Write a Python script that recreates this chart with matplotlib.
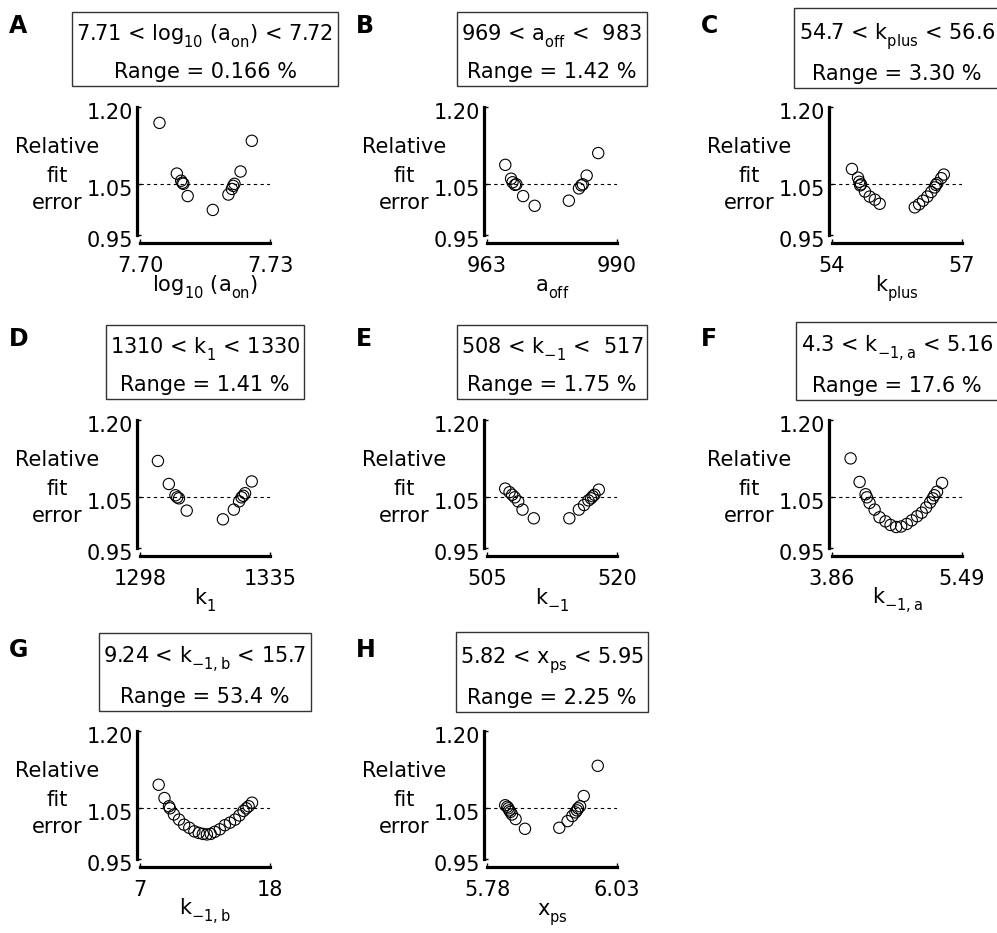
import numpy as np
import matplotlib
matplotlib.use("Agg")
import matplotlib.pyplot as plt
import matplotlib.transforms as mtransforms
import matplotlib._mathtext as _mt

plt.rcParams['font.family'] = ['DejaVu Sans']
plt.rcParams['mathtext.fontset'] = 'dejavusans'

# drop subscripts a bit lower, like the original figure
for _cls in (_mt.FontConstantsBase, _mt.DejaVuSansFontConstants):
    _cls.sub1 = 0.65
    _cls.subdrop = 0.65

# ---- data ----
letters = ['A', 'B', 'C', 'D', 'E', 'F', 'G', 'H']

xlabels = [r'log$_{10}$ (a$_{\rm on}$)', r'a$_{\rm off}$', r'k$_{\rm plus}$', r'k$_1$',
           r'k$_{-1}$', r'k$_{-1,\rm a}$', r'k$_{-1,\rm b}$', r'x$_{\rm ps}$']

box_lines = [r'7.71 < log$_{10}$ (a$_{\rm on}$) < 7.72',
             r'969 < a$_{\rm off}$ <  983',
             r'54.7 < k$_{\rm plus}$ < 56.6',
             r'1310 < k$_1$ < 1330',
             r'508 < k$_{-1}$ <  517',
             r'4.3 < k$_{-1,\rm a}$ < 5.16',
             r'9.24 < k$_{-1,\rm b}$ < 15.7',
             r'5.82 < x$_{\rm ps}$ < 5.95']
ranges = ['0.166', '1.42', '3.30', '1.41', '1.75', '17.6', '53.4', '2.25']

x_limits = [(7.70, 7.73), (963, 990), (54, 57), (1298, 1335),
            (505, 520), (3.86, 5.49), (7, 18), (5.78, 6.03)]
x_ticklabels = [('7.70', '7.73'), ('963', '990'), ('54', '57'), ('1298', '1335'),
                ('505', '520'), ('3.86', '5.49'), ('7', '18'), ('5.78', '6.03')]

y_ticks = [0.95, 1.05, 1.20]
y_ticklabels = ['0.95', '1.05', '1.20']
ylabel_words = ['Relative', 'fit', 'error']
threshold = 1.05

a_on_x = [7.7045, 7.7085, 7.7095, 7.7098, 7.7100, 7.7110, 7.7168,
          7.7204, 7.7212, 7.7215, 7.7218, 7.7232, 7.7258]
a_on_err = [1.169, 1.070, 1.056, 1.052, 1.050, 1.026, 0.999,
            1.029, 1.040, 1.046, 1.050, 1.074, 1.134]

a_off_x = [966.8, 968.0, 968.3, 968.8, 969.1, 970.5, 972.9,
           980.0, 982.1, 982.6, 982.9, 983.7, 986.1]
a_off_err = [1.087, 1.060, 1.053, 1.048, 1.049, 1.026, 1.007,
             1.017, 1.041, 1.047, 1.049, 1.066, 1.110]

k_plus_x = [54.46, 54.60, 54.63, 54.67, 54.65, 54.76, 54.87, 54.99, 55.10,
            55.91, 56.01, 56.10, 56.20, 56.29, 56.37, 56.40, 56.43, 56.52, 56.58]
k_plus_err = [1.079, 1.062, 1.054, 1.049, 1.047, 1.035, 1.025, 1.019, 1.011,
              1.004, 1.010, 1.017, 1.025, 1.034, 1.043, 1.048, 1.051, 1.061, 1.068]

k1_x = [1303.1, 1306.2, 1308.1, 1308.6, 1309.1, 1311.3,
        1321.6, 1324.7, 1326.2, 1326.9, 1327.4, 1327.9, 1329.8]
k1_err = [1.120, 1.075, 1.053, 1.049, 1.047, 1.023,
          1.006, 1.025, 1.041, 1.049, 1.052, 1.057, 1.080]

km1_x = [507.1, 507.6, 507.9, 508.2, 508.6, 509.1, 510.4,
         514.5, 515.6, 516.2, 516.7, 517.0, 517.2, 517.4, 517.9]
km1_err = [1.066, 1.059, 1.054, 1.049, 1.041, 1.025, 1.008,
           1.008, 1.025, 1.034, 1.043, 1.047, 1.051, 1.054, 1.064]

km1a_x = [4.093, 4.206, 4.281, 4.298, 4.331, 4.394, 4.456, 4.531, 4.594, 4.665, 4.727,
          4.798, 4.860, 4.927, 4.985, 5.040, 5.090, 5.123, 5.144, 5.177, 5.240]
km1a_err = [1.125, 1.079, 1.055, 1.049, 1.038, 1.025, 1.010, 1.002, 0.995, 0.991, 0.992,
            0.997, 1.004, 1.012, 1.019, 1.029, 1.039, 1.047, 1.053, 1.060, 1.077]

km1b_x = [8.58, 9.07, 9.45, 9.53, 9.87, 10.30, 10.73, 11.17, 11.60, 11.97, 12.32, 12.66,
          12.98, 13.32, 13.75, 14.18, 14.61, 15.04, 15.41, 15.76, 15.99, 16.19, 16.48]
km1b_err = [1.095, 1.069, 1.053, 1.049, 1.037, 1.027, 1.017, 1.011, 1.004, 1.001, 0.999, 0.998,
            0.999, 1.003, 1.008, 1.016, 1.021, 1.027, 1.035, 1.044, 1.049, 1.053, 1.060]

xps_x = [5.815, 5.819, 5.821, 5.823, 5.825, 5.828, 5.835, 5.853,
         5.919, 5.935, 5.944, 5.950, 5.953, 5.955, 5.959, 5.966, 5.993]
xps_err = [1.055, 1.052, 1.049, 1.045, 1.042, 1.037, 1.028, 1.009,
           1.011, 1.024, 1.034, 1.041, 1.045, 1.049, 1.053, 1.073, 1.132]

xs = [a_on_x, a_off_x, k_plus_x, k1_x, km1_x, km1a_x, km1b_x, xps_x]
ys = [a_on_err, a_off_err, k_plus_err, k1_err, km1_err, km1a_err, km1b_err, xps_err]

# ---- layout (pixels) ----
W, H = 997, 933
FS = 15
col_left = [140, 487, 832]
row_top = [107, 420, 731]
ax_w, ax_h = 130, 128
ylabel_dy = [40, 69, 96]   # line centres below axes top

fig = plt.figure(figsize=(W / 100, H / 100), dpi=100)
label_shift = mtransforms.ScaledTranslation(0, -4 / 100, fig.dpi_scale_trans)


def fx(px):
    return px / W


def fy(py):
    return 1 - py / H


for i in range(8):
    r, c = divmod(i, 3)
    left, top = col_left[c], row_top[r]
    ax = fig.add_axes([fx(left), fy(top + ax_h), ax_w / W, ax_h / H])

    ax.axhline(threshold, color='k', lw=0.8, ls=(0, (3, 3)))
    ax.scatter(xs[i], ys[i], s=66, facecolors='none', edgecolors='k', linewidths=0.8,
               clip_on=False, zorder=3)

    lo, hi = x_limits[i]
    ax.set_xlim(lo, hi)
    ax.set_ylim(0.95, 1.20)
    ax.set_xticks([lo, hi])
    ax.set_xticklabels(x_ticklabels[i])
    ax.set_yticks(y_ticks)
    ax.set_yticklabels(y_ticklabels)

    for s in ['top', 'right']:
        ax.spines[s].set_visible(False)
    ax.spines['left'].set_bounds(0.95, 1.20)
    ax.spines['bottom'].set_bounds(lo, hi)
    ax.spines['left'].set_position(('outward', 2.2))
    ax.spines['bottom'].set_position(('outward', 5.8))
    ax.spines['left'].set_linewidth(2.3)
    ax.spines['bottom'].set_linewidth(2.3)
    ax.tick_params(axis='both', direction='in', length=3, width=1, labelsize=FS)
    ax.tick_params(axis='y', pad=2.5)
    ax.tick_params(axis='x', pad=9)
    for lab in ax.get_yticklabels():
        lab.set_transform(lab.get_transform() + label_shift)

    # panel letter
    fig.text(fx(left - 131), fy(top - 81), letters[i], fontsize=FS + 2,
             fontweight='bold', ha='left', va='center')
    # range box
    fig.text(fx(left + 65), fy(top - 55), box_lines[i] + '\nRange = ' + ranges[i] + ' %',
             fontsize=FS, ha='center', va='center', linespacing=1.75,
             bbox=dict(boxstyle='square,pad=0.2', fc='white', ec='#333333', lw=1))
    # y label, one word per line
    for word, dy in zip(ylabel_words, ylabel_dy):
        fig.text(fx(left - 83), fy(top + dy), word, fontsize=FS,
                 ha='center', va='center')
    # x label
    fig.text(fx(left + 65), fy(top + 184), xlabels[i], fontsize=FS,
             ha='center', va='baseline')

fig.savefig('out.png', dpi=100)
